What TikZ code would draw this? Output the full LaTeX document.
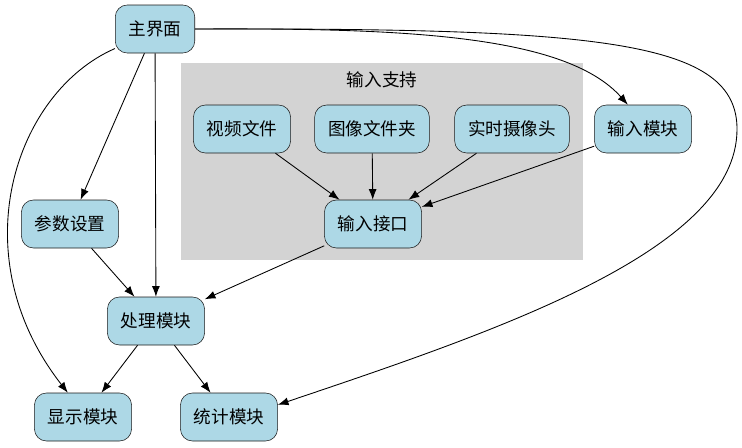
\documentclass[tikz,border=0pt]{standalone}
\usepackage{fontspec}
\setmainfont{Noto Sans CJK SC}
\usepackage{tikz}
\usetikzlibrary{arrows.meta}
\definecolor{nodeblue}{HTML}{ADD8E6}
\definecolor{clustergray}{HTML}{D3D3D3}
\tikzset{
  >={Latex[length=8pt,width=6pt]},
}
\tikzstyle{module}=[draw=black!90,fill=nodeblue,rounded corners=9pt,minimum height=36pt,inner xsep=10pt]
\tikzstyle{link}=[->,line width=0.65pt]
\tikzstyle{every node}=[font=\fontsize{13.2}{15}\selectfont]

\begin{document}
\begin{tikzpicture}[x=0.75pt,y=-0.75pt]
    \useasboundingbox (0,0) rectangle (742,447);
    % cluster
    \fill[clustergray] (181,63) rectangle (583,260);
    \node (support) at (382,80) {输入支持};
    % nodes
    \node[module] (main) at (155,29) {主界面};
    \node[module] (video) at (242,129) {视频文件};
    \node[module] (folder) at (372,129) {图像文件夹};
    \node[module] (camera) at (512,129) {实时摄像头};
    \node[module] (inmod) at (643,129) {输入模块};
    \node[module] (inport) at (373,224) {输入接口};
    \node[module] (param) at (70,224) {参数设置};
    \node[module] (proc) at (156,321) {处理模块};
    \node[module] (disp) at (83,417) {显示模块};
    \node[module] (stat) at (229,417) {统计模块};
    % edges
    \draw[link] (main) -- (param);
    \draw[link] (main) -- (proc);
    \draw[link] (main.206) .. controls (15,92) and (-40,255) .. (disp.122);
    \draw[link] (main.east) .. controls (400,28) and (565,34) .. (inmod.122);
    \draw[link] (main.east) .. controls (600,28) and (738,40) .. (737,130)
        .. controls (736,250) and (500,330) .. (stat.14);
    \draw[link] (video) -- (inport);
    \draw[link] (folder) -- (inport);
    \draw[link] (camera) -- (inport);
    \draw[link] (inmod) -- (inport);
    \draw[link] (inport) -- (proc);
    \draw[link] (param) -- (proc);
    \draw[link] (proc) -- (disp);
    \draw[link] (proc) -- (stat);
\end{tikzpicture}
\end{document}
